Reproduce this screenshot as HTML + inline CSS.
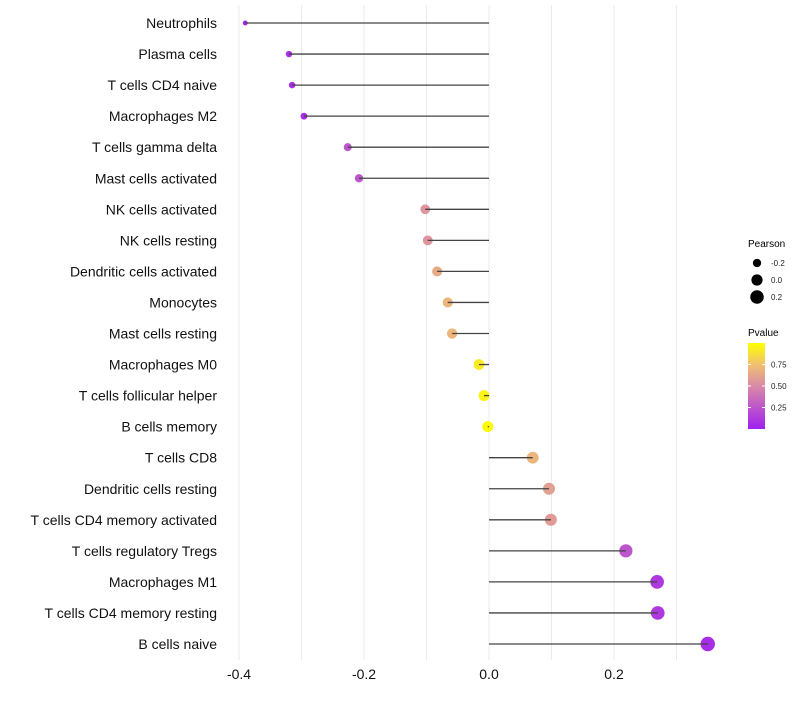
<!DOCTYPE html>
<html><head><meta charset="utf-8"><style>
body{margin:0;background:#fff;font-family:"Liberation Sans",sans-serif;}
svg text{font-family:"Liberation Sans",sans-serif;}
</style></head><body>
<svg id="chart" width="800" height="700">
<defs><linearGradient id="pg" x1="0" y1="1" x2="0" y2="0">
<stop offset="0" stop-color="#A020F0"/><stop offset="0.5" stop-color="#D98AA8"/><stop offset="0.75" stop-color="#F0C070"/><stop offset="1" stop-color="#FFFF00"/>
</linearGradient></defs>
<g id="grid"></g><g id="marks"></g><g id="labels"></g>
<g>
<text x="748" y="247" font-size="10">Pearson</text>
<g id="sizeleg"></g>
<text x="748" y="336" font-size="10">Pvalue</text>
<rect x="748" y="343" width="17" height="86" fill="url(#pg)"/>
<g id="colleg"></g>
</g>
</svg>
<script>
const cells=["Neutrophils","Plasma cells","T cells CD4 naive","Macrophages M2","T cells gamma delta","Mast cells activated","NK cells activated","NK cells resting","Dendritic cells activated","Monocytes","Mast cells resting","Macrophages M0","T cells follicular helper","B cells memory","T cells CD8","Dendritic cells resting","T cells CD4 memory activated","T cells regulatory  Tregs","Macrophages M1","T cells CD4 memory resting","B cells naive"];
const pearson=[-0.390,-0.320,-0.315,-0.296,-0.226,-0.208,-0.102,-0.098,-0.083,-0.066,-0.059,-0.016,-0.008,-0.002,0.070,0.096,0.099,0.219,0.269,0.270,0.350];
const pvalue=[0.03,0.07,0.06,0.06,0.25,0.25,0.55,0.55,0.65,0.70,0.70,0.92,0.95,0.99,0.70,0.60,0.58,0.25,0.12,0.12,0.06];
const xTicks=[-0.4,-0.2,0.0,0.2];
const xTickLabels=["-0.4","-0.2","0.0","0.2"];
const sizeLegVals=[-0.2,0.0,0.2];
const colLegVals=[0.25,0.5,0.75];
const NS="http://www.w3.org/2000/svg";
const X=v=>489+v*625;
const Y=i=>23+i*31.05;
const R=v=>Math.sqrt(Math.max(1,6+(v+0.39)*62));
const RL=v=>Math.sqrt(4+(v+0.39)*70.3);
function hex(h){return [parseInt(h.slice(1,3),16),parseInt(h.slice(3,5),16),parseInt(h.slice(5,7),16)];}
const stops=[[0,"#A020F0"],[0.5,"#D98AA8"],[0.75,"#F0C070"],[1,"#FFFF00"]];
function col(p){for(let k=0;k<stops.length-1;k++){const[a,ca]=stops[k],[b,cb]=stops[k+1];if(p<=b){const t=(p-a)/(b-a),A=hex(ca),B=hex(cb);return"rgb("+A.map((c,j)=>Math.round(c+(B[j]-c)*t)).join(",")+")";}}return"#FFFF00";}
function mk(t,at,parent){const e=document.createElementNS(NS,t);for(const k in at)e.setAttribute(k,at[k]);parent.appendChild(e);return e;}
const grid=document.getElementById('grid'),marks=document.getElementById('marks'),labels=document.getElementById('labels');
for(let v=-0.4;v<=0.31;v+=0.1){const l=mk('line',{x1:X(v),x2:X(v),y1:5,y2:660,stroke:"#ebebeb","stroke-width":1},grid);

}
xTicks.forEach((v,i)=>{const t=mk('text',{x:X(v),y:679,"font-size":14,"text-anchor":"middle",fill:"#111"},labels);t.textContent=xTickLabels[i];

});
cells.forEach((c,i)=>{const y=Y(i),v=pearson[i];
const t=mk('text',{x:217,y:y+5,"font-size":14,"text-anchor":"end",fill:"#111"},labels);t.textContent=c;


const ci=mk('circle',{cx:X(v),cy:y,r:R(v),fill:col(pvalue[i])},marks);


const l=mk('line',{x1:X(0),x2:X(v),y1:y,y2:y,stroke:"#444","stroke-width":1.3},marks);

});
const sl=document.getElementById('sizeleg');
sizeLegVals.forEach((v,i)=>{const y=263+i*17;const c=mk('circle',{cx:757,cy:y,r:RL(v),fill:"#000"},sl);


const t=mk('text',{x:771,y:y+3,"font-size":8,fill:"#222"},sl);t.textContent=v.toFixed(1);

});
const cl=document.getElementById('colleg');
colLegVals.forEach(v=>{const y=429-v*86;mk('line',{x1:748,x2:751,y1:y,y2:y,stroke:"#fff"},cl);mk('line',{x1:762,x2:765,y1:y,y2:y,stroke:"#fff"},cl);
const t=mk('text',{x:771,y:y+3,"font-size":8,fill:"#222"},cl);t.textContent=v.toFixed(2);

});
</script>
</body></html>
